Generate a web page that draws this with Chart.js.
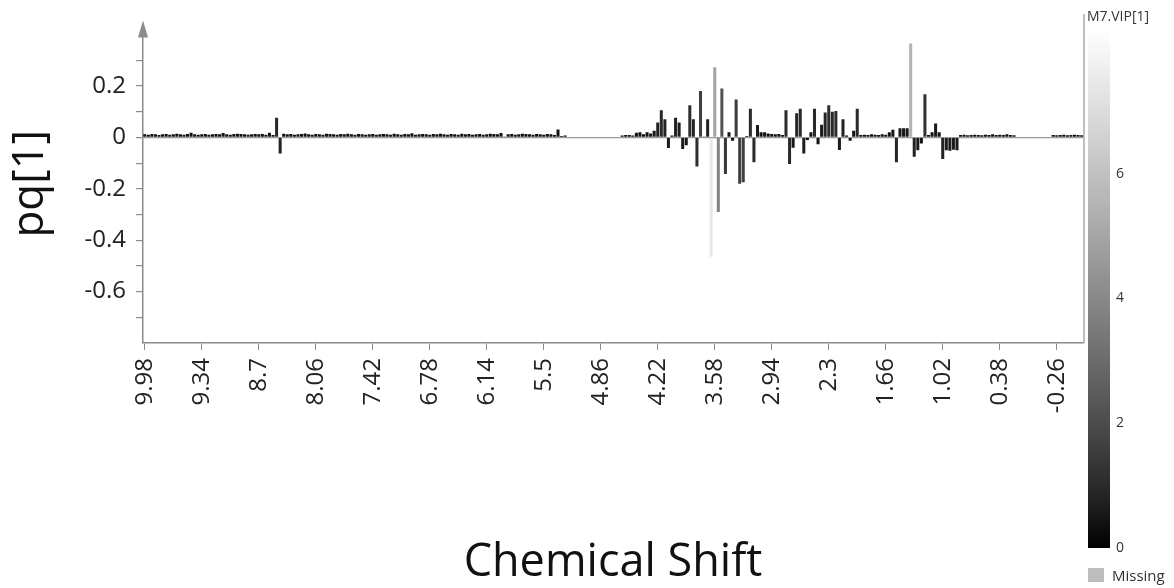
<!DOCTYPE html>
<html>
<head>
<meta charset="utf-8">
<script src="https://cdn.jsdelivr.net/npm/chart.js@4.4.0/dist/chart.umd.min.js"></script>
<style>
  body { margin: 0; background: #fff; }
  canvas { display: block; }
</style>
</head>
<body>
<canvas id="loadingChart" width="1174" height="588"></canvas>
<script>
// bucket grid in ppm (first bucket, bucket width)
const firstShift = 9.98;
const shiftStep = 0.04;

// labelled positions on the chemical shift axis
const shiftTicks = [9.98, 9.34, 8.7, 8.06, 7.42, 6.78, 6.14, 5.5, 4.86,
                    4.22, 3.58, 2.94, 2.3, 1.66, 1.02, 0.38, -0.26];

// pq[1] loading per bucket, 16 buckets per row (null = excluded water region)
const pq1 = [
  0.012, 0.011, 0.013, 0.012, 0.010, 0.012, 0.013, 0.011, 0.012, 0.014, 0.012, 0.011, 0.013, 0.018, 0.012, 0.011,
  0.012, 0.013, 0.011, 0.012, 0.013, 0.012, 0.017, 0.012, 0.011, 0.013, 0.014, 0.013, 0.012, 0.011, 0.012, 0.013,
  0.012, 0.013, 0.011, 0.018, 0.010, 0.077, -0.062, 0.014, 0.012, 0.013, 0.011, 0.012, 0.013, 0.015, 0.012, 0.011,
  0.013, 0.012, 0.011, 0.014, 0.013, 0.012, 0.011, 0.013, 0.012, 0.014, 0.012, 0.011, 0.013, 0.012, 0.011, 0.012,
  0.013, 0.011, 0.012, 0.013, 0.012, 0.011, 0.014, 0.012, 0.011, 0.013, 0.012, 0.016, 0.011, 0.012, 0.013, 0.012,
  0.011, 0.013, 0.012, 0.014, 0.012, 0.011, 0.013, 0.012, 0.011, 0.014, 0.012, 0.013, 0.011, 0.012, 0.013, 0.011,
  0.012, 0.014, 0.013, 0.012, 0.017, 0.004, 0.012, 0.013, 0.011, 0.012, 0.014, 0.013, 0.012, 0.011, 0.013, 0.012,
  0.011, 0.013, 0.012, 0.010, 0.031, 0.006, 0.008, null, null, null, null, null, null, null, null, null,
  null, null, null, null, null, null, 0.008, 0.010, 0.010, 0.008, 0.018, 0.020, 0.012, 0.020, 0.015, 0.026,
  0.058, 0.106, 0.071, -0.041, 0.008, 0.077, 0.058, -0.045, -0.030, 0.125, 0.071, -0.113, 0.181, 0.002, 0.071, -0.464,
  0.273, -0.290, 0.191, -0.142, 0.020, -0.013, 0.148, -0.180, -0.174, 0.006, 0.112, -0.097, 0.048, 0.020, 0.020, 0.015,
  0.013, 0.012, 0.013, 0.010, 0.106, -0.103, -0.040, 0.094, 0.112, -0.062, -0.010, 0.020, 0.112, -0.026, 0.049, 0.097,
  0.125, 0.100, 0.103, -0.049, 0.071, 0.008, -0.013, 0.026, 0.112, 0.010, 0.011, 0.010, 0.012, 0.011, 0.010, 0.012,
  0.011, 0.020, 0.030, -0.097, 0.036, 0.036, 0.036, 0.366, -0.075, -0.050, -0.024, 0.168, 0.010, 0.020, 0.054, 0.020,
  -0.084, -0.050, -0.052, -0.048, -0.050, 0.010, 0.011, 0.009, 0.010, 0.011, 0.010, 0.009, 0.011, 0.010, 0.012, 0.010,
  0.011, 0.010, 0.012, 0.010, 0.009, 0, 0, 0, 0, 0, 0, 0, 0, 0, 0, 0.010,
  0.009, 0.010, 0.011, 0.009, 0.010, 0.011, 0.010, 0.009
];

// VIP[1] per bucket, same layout - sets the grey level of each bar
const vip1 = [
  0.3, 0.3, 0.3, 0.3, 0.3, 0.3, 0.3, 0.3, 0.3, 0.4, 0.3, 0.3, 0.3, 0.4, 0.3, 0.3,
  0.3, 0.3, 0.3, 0.3, 0.3, 0.3, 0.4, 0.3, 0.3, 0.3, 0.3, 0.3, 0.3, 0.3, 0.3, 0.3,
  0.3, 0.3, 0.3, 0.4, 0.3, 0.9, 0.8, 0.3, 0.3, 0.3, 0.3, 0.3, 0.3, 0.3, 0.3, 0.3,
  0.3, 0.3, 0.3, 0.3, 0.3, 0.3, 0.3, 0.3, 0.3, 0.3, 0.3, 0.3, 0.3, 0.3, 0.3, 0.3,
  0.3, 0.3, 0.3, 0.3, 0.3, 0.3, 0.3, 0.3, 0.3, 0.3, 0.3, 0.4, 0.3, 0.3, 0.3, 0.3,
  0.3, 0.3, 0.3, 0.3, 0.3, 0.3, 0.3, 0.3, 0.3, 0.3, 0.3, 0.3, 0.3, 0.3, 0.3, 0.3,
  0.3, 0.3, 0.3, 0.3, 0.4, 0.2, 0.3, 0.3, 0.3, 0.3, 0.3, 0.3, 0.3, 0.3, 0.3, 0.3,
  0.3, 0.3, 0.3, 0.3, 0.5, 0.2, 0.2, null, null, null, null, null, null, null, null, null,
  null, null, null, null, null, null, 0.3, 0.3, 0.3, 0.3, 0.4, 0.4, 0.3, 0.4, 0.4, 0.5,
  0.7, 1.0, 0.8, 0.6, 0.2, 0.8, 0.7, 0.6, 0.5, 1.1, 0.8, 1.1, 1.6, 0.1, 0.8, 7.4,
  4.9, 3.8, 2.2, 1.4, 0.4, 0.3, 1.5, 1.6, 1.6, 0.2, 1.0, 1.0, 0.6, 0.4, 0.4, 0.3,
  0.3, 0.3, 0.3, 0.3, 1.0, 1.0, 0.5, 0.9, 1.0, 0.7, 0.2, 0.4, 1.0, 0.4, 0.6, 0.9,
  1.1, 0.9, 1.0, 0.6, 0.8, 0.2, 0.3, 0.4, 1.0, 0.3, 0.3, 0.3, 0.3, 0.3, 0.3, 0.3,
  0.3, 0.4, 0.5, 0.9, 0.5, 0.5, 0.5, 5.5, 0.8, 0.6, 0.4, 1.2, 0.3, 0.4, 0.6, 0.4,
  0.8, 0.6, 0.6, 0.6, 0.6, 0.3, 0.3, 0.3, 0.3, 0.3, 0.3, 0.3, 0.3, 0.3, 0.3, 0.3,
  0.3, 0.3, 0.3, 0.3, 0.3, 0.1, 0.1, 0.1, 0.1, 0.1, 0.1, 0.1, 0.1, 0.1, 0.1, 0.3,
  0.3, 0.3, 0.3, 0.3, 0.3, 0.3, 0.3, 0.3
];

// colour bar scale
const vipTicks = [0, 2, 4, 6];
const vipMax = 8.3;

const shifts = pq1.map((v, i) => +(firstShift - i * shiftStep).toFixed(2));

// black (low VIP) -> white (high VIP)
function vipGray(v) {
  if (v === null) return '#bdbdbd';
  const t = Math.min(Math.max(v / vipMax, 0), 1);
  const g = Math.round(255 * Math.pow(t, 0.85));
  return 'rgb(' + g + ',' + g + ',' + g + ')';
}

const font = '"Open Sans", "Noto Sans", sans-serif';

// y axis arrow, right frame and the VIP colour bar
const loadingDecor = {
  id: 'loadingDecor',
  afterDraw(chart) {
    const ctx = chart.ctx;
    const ca = chart.chartArea;
    ctx.save();

    ctx.fillStyle = '#8c8c8c';
    ctx.beginPath();
    ctx.moveTo(ca.left, ca.top - 4);
    ctx.lineTo(ca.left - 5, ca.top + 13);
    ctx.lineTo(ca.left + 5, ca.top + 13);
    ctx.closePath();
    ctx.fill();

    ctx.strokeStyle = '#a8a8a8';
    ctx.lineWidth = 1.5;
    ctx.beginPath();
    ctx.moveTo(ca.right + 1, 14);
    ctx.lineTo(ca.right + 1, ca.bottom);
    ctx.stroke();

    const barX = 1088, barW = 22, barTop = 30, barBottom = 548;
    const grad = ctx.createLinearGradient(0, barBottom, 0, barTop);
    for (let k = 0; k <= 10; k++) {
      grad.addColorStop(k / 10, vipGray(vipMax * k / 10));
    }
    ctx.fillStyle = grad;
    ctx.fillRect(barX, barTop, barW, barBottom - barTop);

    ctx.fillStyle = '#333';
    ctx.textAlign = 'left';
    ctx.textBaseline = 'middle';
    ctx.font = '14px ' + font;
    vipTicks.forEach(v => {
      ctx.fillText(String(v), barX + barW + 6, barBottom - v * (barBottom - barTop) / vipMax);
    });
    ctx.fillText('M7.VIP[1]', 1087, 17);

    ctx.fillStyle = '#bdbdbd';
    ctx.fillRect(barX, 568, 16, 14);
    ctx.fillStyle = '#333';
    ctx.font = '15px ' + font;
    ctx.fillText('Missing', 1112, 577);

    ctx.restore();
  }
};

const ChartA = document.getElementById('loadingChart');
const loadingChart = new Chart(ChartA, {
  type: 'bar',
  data: {
    labels: shifts,
    datasets: [{
      label: 'pq[1]',
      data: pq1,
      backgroundColor: vip1.map(vipGray),
      borderWidth: 0,
      barPercentage: 1,
      categoryPercentage: 0.85
    }]
  },
  options: {
    responsive: false,
    animation: false,
    layout: { padding: { left: 0, right: 91, top: 23, bottom: 0 } },
    scales: {
      x: {
        type: 'linear',
        reverse: true,
        offset: false,
        min: -0.555,
        max: 10.0,
        afterBuildTicks: scale => { scale.ticks = shiftTicks.map(v => ({ value: v })); },
        afterFit: scale => { scale.height = 245; },
        ticks: {
          autoSkip: false,
          minRotation: 90,
          maxRotation: 90,
          padding: 8,
          color: '#222',
          font: { family: font, size: 24 },
          callback: v => String(v)
        },
        grid: { offset: false, drawOnChartArea: false, tickLength: 7, tickColor: '#8c8c8c' },
        border: { color: '#8c8c8c', width: 1.5 },
        title: {
          display: true,
          text: 'Chemical Shift',
          color: '#111',
          padding: { top: 0, bottom: -2 },
          font: { family: font, size: 45 }
        }
      },
      y: {
        min: -0.8,
        max: 0.44,
        afterBuildTicks: scale => {
          scale.ticks = scale.ticks.filter(t => t.value > -0.75 && t.value < 0.35);
        },
        afterFit: scale => { scale.width = 143; },
        ticks: {
          stepSize: 0.1,
          padding: 10,
          color: '#222',
          font: { family: font, size: 24 },
          callback: v => {
            const r = Math.round(v * 10);
            if (r % 2 !== 0) return '';
            return r === 0 ? '0' : (r / 10).toFixed(1);
          }
        },
        grid: {
          tickLength: 7,
          tickColor: '#8c8c8c',
          color: ctx => Math.abs(ctx.tick.value) < 1e-9 ? '#9a9a9a' : 'rgba(0,0,0,0)',
          lineWidth: 1.2
        },
        border: { color: '#8c8c8c', width: 1.5 },
        title: {
          display: true,
          text: 'pq[1]',
          color: '#111',
          font: { family: font, size: 44 }
        }
      }
    },
    plugins: {
      legend: { display: false },
      tooltip: { enabled: false }
    }
  },
  plugins: [loadingDecor]
});
</script>
</body>
</html>
